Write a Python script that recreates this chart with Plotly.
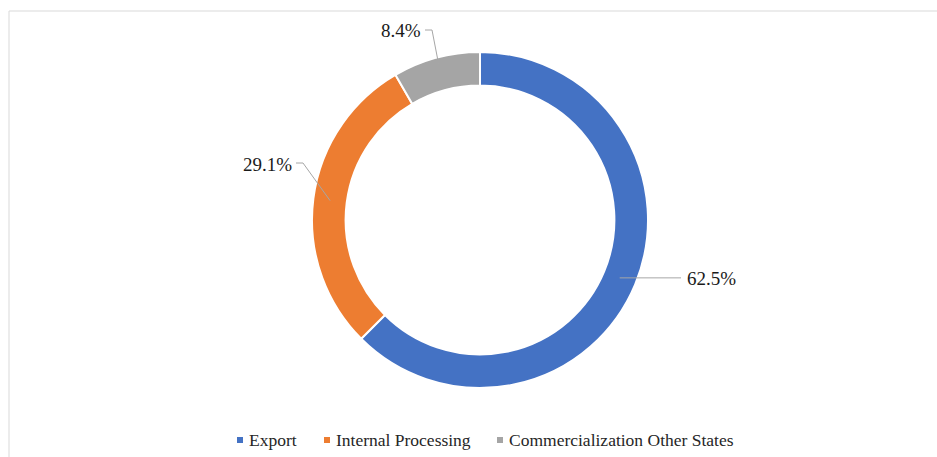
import math
import plotly.graph_objects as go

# ---- data ----
categories = ["Export", "Internal Processing", "Commercialization Other States"]
shares = [62.5, 29.1, 8.4]
label_texts = ["62.5%", "29.1%", "8.4%"]
colors = ["#4472C4", "#ED7D31", "#A5A5A5"]

# ---- geometry (pixels) ----
W, H = 937, 457
CX, CY = 480, 220
R_OUT = 168
HOLE = 0.8
R_MID = R_OUT * (1 + HOLE) / 2
FONT = "Liberation Serif"

# label placement styles
label_styles = [
    dict(elbow=None, end_x=681, side="right"),
    dict(elbow=(303, 163), end=(296, 163), side="left"),
    dict(elbow=(432, 30), end=(425, 30), side="left"),
]
# legend placement (marker left x, text left x) in px
legend_pos = [(237, 247), (324, 334), (497, 507)]
LEGEND_Y = 440


def px2paper(x, y):
    return x / W, 1 - y / H


fig = go.Figure()
fig.add_trace(go.Pie(
    labels=categories, values=shares, hole=HOLE, sort=False,
    direction="clockwise", rotation=0,
    marker=dict(colors=colors, line=dict(color="white", width=2)),
    textinfo="none", hoverinfo="label+percent", showlegend=False,
    domain=dict(x=[(CX - R_OUT) / W, (CX + R_OUT) / W],
                y=[1 - (CY + R_OUT) / H, 1 - (CY - R_OUT) / H]),
))

shapes = []
annotations = []
total = sum(shares)
cum = 0.0
for val, txt, st in zip(shares, label_texts, label_styles):
    mid = (cum + val / 2) / total * 2 * math.pi
    cum += val
    sx = CX + R_MID * math.sin(mid)
    sy = CY - R_MID * math.cos(mid)
    pts = [(sx, sy)]
    if st["elbow"] is None:
        pts.append((st["end_x"], sy))
        ex, ey = st["end_x"], sy
    else:
        pts.append(st["elbow"])
        pts.append(st["end"])
        ex, ey = st["end"]
    path = "M " + " L ".join(f"{px2paper(x, y)[0]},{px2paper(x, y)[1]}" for x, y in pts)
    shapes.append(dict(type="path", xref="paper", yref="paper", path=path,
                       line=dict(color="#A6A6A6", width=1)))
    ax, ay = px2paper(ex + (4 if st["side"] == "right" else -2), ey + 1)
    annotations.append(dict(x=ax, y=ay, xref="paper", yref="paper", text=txt,
                            showarrow=False,
                            xanchor="left" if st["side"] == "right" else "right",
                            yanchor="middle",
                            font=dict(family=FONT, size=19, color="#1a1a1a")))

# legend drawn as markers + text
for cat, col, (mx, tx) in zip(categories, colors, legend_pos):
    x0, y0 = px2paper(mx, LEGEND_Y - 3)
    x1, y1 = px2paper(mx + 6, LEGEND_Y + 3)
    shapes.append(dict(type="rect", xref="paper", yref="paper", x0=x0, x1=x1, y0=y0, y1=y1,
                       fillcolor=col, line=dict(width=0)))
    lx, ly = px2paper(tx, LEGEND_Y)
    annotations.append(dict(x=lx, y=ly, xref="paper", yref="paper", text=cat,
                            showarrow=False, xanchor="left", yanchor="middle",
                            font=dict(family=FONT, size=17.5, color="#262626")))

# chart border (top and left edges visible)
shapes.append(dict(type="line", xref="paper", yref="paper",
                   x0=9 / W, x1=1, y0=1 - 11 / H, y1=1 - 11 / H,
                   line=dict(color="#D9D9D9", width=1)))
shapes.append(dict(type="line", xref="paper", yref="paper",
                   x0=9 / W, x1=9 / W, y0=0, y1=1 - 11 / H,
                   line=dict(color="#D9D9D9", width=1)))

fig.update_layout(
    width=W, height=H, margin=dict(l=0, r=0, t=0, b=0),
    paper_bgcolor="white", plot_bgcolor="white",
    font=dict(family=FONT),
    shapes=shapes, annotations=annotations,
    showlegend=False,
)

fig.write_html("out.html")
